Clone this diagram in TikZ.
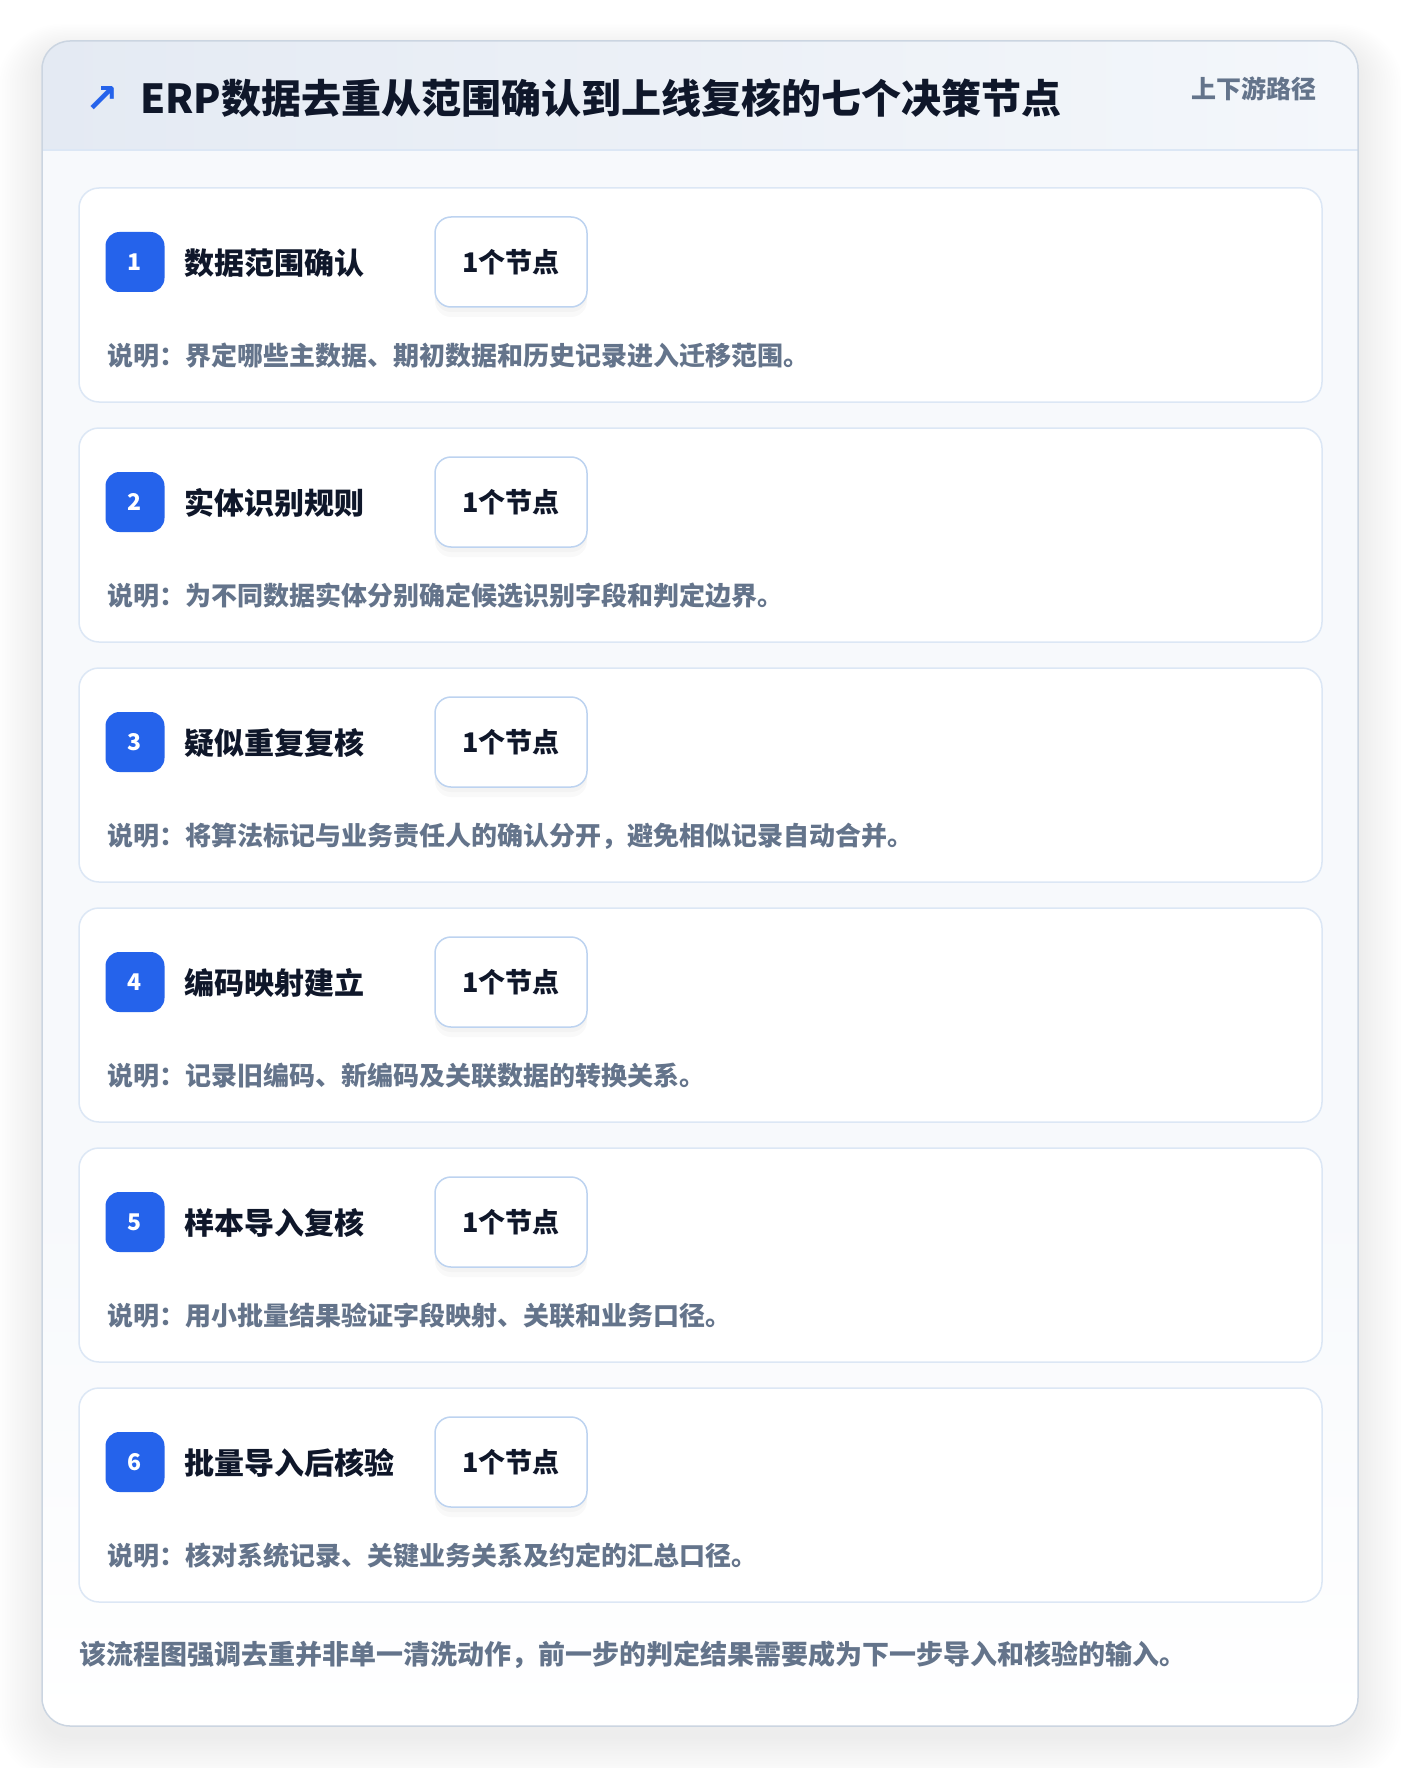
\documentclass[tikz,border=0pt]{standalone}
\usepackage{fontspec}
\newfontfamily\cjk{Noto Sans CJK SC}
\newfontfamily\symb{DejaVu Sans}
\usetikzlibrary{positioning}
\definecolor{badgeblue}{HTML}{2563EB}
\definecolor{inkdark}{HTML}{0F172A}
\definecolor{inkgray}{HTML}{64748B}
\definecolor{cardline}{HTML}{DCE7F5}
\definecolor{pillline}{HTML}{BDD3F0}
\definecolor{outerline}{HTML}{CBD5E1}
\definecolor{hdrleft}{HTML}{E4EAF3}
\definecolor{hdrright}{HTML}{F4F7FB}
\definecolor{bodyfill}{HTML}{F7F9FC}
\newcommand{\fs}[1]{\fontsize{#1}{#1}\selectfont}
\tikzset{
	card/.style={draw=cardline, line width=1.5pt, fill=white, rounded corners=20pt, minimum width=1243pt, minimum height=214pt, inner sep=0pt},
	badge/.style={fill=badgeblue, rounded corners=14pt, minimum width=59pt, minimum height=60pt, inner sep=0pt, text=white, font=\cjk\bfseries\fs{23}},
	ttl/.style={anchor=west, inner sep=0pt, text=inkdark, font=\cjk\bfseries\fs{30}},
	pill/.style={draw=pillline, line width=1.5pt, fill=white, rounded corners=16pt, minimum width=152pt, minimum height=90pt, inner sep=0pt, text=inkdark, font=\cjk\bfseries\fs{27},
		preaction={fill=black, opacity=0.025, transform canvas={yshift=-10pt}},
		preaction={fill=black, opacity=0.025, transform canvas={yshift=-5pt}}},
	desc/.style={anchor=west, inner sep=0pt, text=inkgray, font=\cjk\bfseries\fs{26}},
}

\begin{document}
\begin{tikzpicture}[x=1pt, y=-1pt]
	\useasboundingbox (0,0) rectangle (1400,1768);
	% soft shadow of the outer panel
	\foreach \s in {1,...,18}
		\fill[black, opacity=0.005, rounded corners=28pt+\s*2pt] (42-\s*2.5,41-\s*1.5+10) rectangle (1358+\s*2.5,1726+\s*2.5+10);
	\fill[bodyfill, rounded corners=28pt] (42,41) rectangle (1358,1726);
	\begin{scope}
		\clip[rounded corners=28pt] (42,41) rectangle (1358,1726);
		\shade[left color=hdrleft, right color=hdrright] (42,41) rectangle (1358,150);
		\shade[top color=bodyfill, bottom color=white] (42,1200) rectangle (1358,1726);
	\end{scope}
	\draw[cardline, line width=1.5pt] (42,150) -- (1358,150);
	\draw[outerline, line width=1.5pt, rounded corners=28pt] (42,41) rectangle (1358,1726);

	% header
	\node [text=badgeblue, font=\symb\bfseries\fs{40}, inner sep=0pt] at (102,100) (icon) {↗};
	\node [anchor=west, inner sep=0pt, text=inkdark, font=\cjk\bfseries\fs{40}] at (140,98) (title) {ERP数据去重从范围确认到上线复核的七个决策节点};
	\node [anchor=east, inner sep=0pt, text=inkgray, font=\cjk\bfseries\fs{25}] at (1317,89) (route) {上下游路径};

	% step 1
	\node [card] at (700.5,295) (c1) {};
	\node [badge] at (135,262) (b1) {1};
	\node [ttl] at (184,263) (t1) {数据范围确认};
	\node [pill] at (511,262) (p1) {1个节点};
	\node [desc] at (107,356) (d1) {说明：界定哪些主数据、期初数据和历史记录进入迁移范围。};

	% step 2
	\node [card] at (700.5,535) (c2) {};
	\node [badge] at (135,502) (b2) {2};
	\node [ttl] at (184,503) (t2) {实体识别规则};
	\node [pill] at (511,502) (p2) {1个节点};
	\node [desc] at (107,596) (d2) {说明：为不同数据实体分别确定候选识别字段和判定边界。};

	% step 3
	\node [card] at (700.5,775) (c3) {};
	\node [badge] at (135,742) (b3) {3};
	\node [ttl] at (184,743) (t3) {疑似重复复核};
	\node [pill] at (511,742) (p3) {1个节点};
	\node [desc] at (107,836) (d3) {说明：将算法标记与业务责任人的确认分开，避免相似记录自动合并。};

	% step 4
	\node [card] at (700.5,1015) (c4) {};
	\node [badge] at (135,982) (b4) {4};
	\node [ttl] at (184,983) (t4) {编码映射建立};
	\node [pill] at (511,982) (p4) {1个节点};
	\node [desc] at (107,1076) (d4) {说明：记录旧编码、新编码及关联数据的转换关系。};

	% step 5
	\node [card] at (700.5,1255) (c5) {};
	\node [badge] at (135,1222) (b5) {5};
	\node [ttl] at (184,1223) (t5) {样本导入复核};
	\node [pill] at (511,1222) (p5) {1个节点};
	\node [desc] at (107,1316) (d5) {说明：用小批量结果验证字段映射、关联和业务口径。};

	% step 6
	\node [card] at (700.5,1495) (c6) {};
	\node [badge] at (135,1462) (b6) {6};
	\node [ttl] at (184,1463) (t6) {批量导入后核验};
	\node [pill] at (511,1462) (p6) {1个节点};
	\node [desc] at (107,1556) (d6) {说明：核对系统记录、关键业务关系及约定的汇总口径。};

	% footer note
	\node [anchor=west, inner sep=0pt, text=inkgray, font=\cjk\bfseries\fs{27}] at (79,1655) (note) {该流程图强调去重并非单一清洗动作，前一步的判定结果需要成为下一步导入和核验的输入。};
\end{tikzpicture}
\end{document}
